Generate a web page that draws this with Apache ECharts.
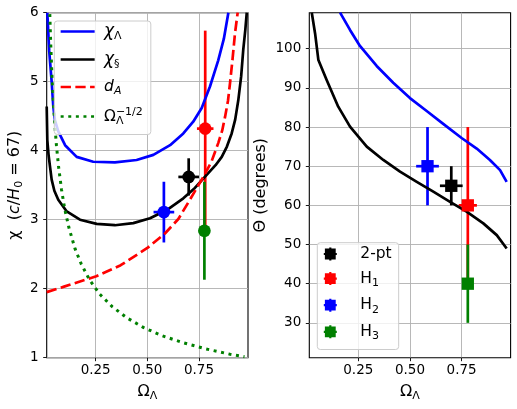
<!DOCTYPE html>
<html>
<head>
<meta charset="utf-8">
<script src="https://cdn.jsdelivr.net/npm/echarts@6/dist/echarts.min.js"></script>
<style>
html,body{margin:0;padding:0;background:#fff;}
#chart{width:517px;height:409px;}
</style>
</head>
<body>
<div id="chart"></div>
<script>
// ---------- data ----------
const omegaTicks = [0.25, 0.5, 0.75];
const thetaTicks = [30, 40, 50, 60, 70, 80, 90, 100];

// left panel curves (Omega_Lambda, chi)
const chiLambdaOmega = [0.016, 0.025, 0.037, 0.045, 0.053, 0.069, 0.102, 0.158, 0.238, 0.343, 0.448, 0.529, 0.610, 0.674, 0.722, 0.763, 0.803, 0.843, 0.870, 0.892];
const chiLambdaVal   = [6.0, 5.45, 5.0, 4.64, 4.44, 4.28, 4.08, 3.91, 3.84, 3.83, 3.865, 3.94, 4.08, 4.25, 4.42, 4.62, 4.93, 5.31, 5.62, 6.0];

const chiSOmega = [0.013, 0.016, 0.022, 0.029, 0.037, 0.050, 0.069, 0.110, 0.174, 0.255, 0.343, 0.432, 0.513, 0.594, 0.674, 0.730, 0.787, 0.830, 0.860, 0.885, 0.908, 0.925, 0.940, 0.954, 0.964, 0.974, 0.981];
const chiSVal   = [4.64, 4.15, 3.94, 3.77, 3.58, 3.42, 3.29, 3.12, 3.0, 2.94, 2.92, 2.95, 3.02, 3.14, 3.31, 3.46, 3.65, 3.79, 3.91, 4.06, 4.25, 4.45, 4.73, 5.08, 5.46, 5.75, 6.0];

const dAOmega = [0.013, 0.097, 0.253, 0.371, 0.500, 0.585, 0.650, 0.706, 0.771, 0.810, 0.843, 0.862, 0.876, 0.890, 0.900, 0.912, 0.924, 0.937];
const dAVal   = [1.95, 2.03, 2.18, 2.34, 2.59, 2.80, 3.01, 3.29, 3.62, 3.84, 4.11, 4.29, 4.49, 4.72, 4.98, 5.32, 5.70, 6.0];

const omInvOmega = [0.028, 0.032, 0.037, 0.043, 0.05, 0.06, 0.07, 0.085, 0.1, 0.12, 0.15, 0.18, 0.22, 0.27, 0.33, 0.4, 0.48, 0.57, 0.67, 0.78, 0.9, 0.97];
const omInvVal   = [5.98, 5.59, 5.20, 4.82, 4.47, 4.08, 3.78, 3.43, 3.16, 2.89, 2.58, 2.36, 2.13, 1.92, 1.74, 1.58, 1.44, 1.32, 1.22, 1.13, 1.05, 1.015];

// right panel curves (Omega_Lambda, Theta in degrees)
const thetaLambdaOmega = [0.162, 0.210, 0.258, 0.339, 0.419, 0.500, 0.581, 0.661, 0.750, 0.823, 0.887, 0.936, 0.968];
const thetaLambdaVal   = [109.2, 104.8, 100.7, 95.6, 91.3, 87.4, 84.1, 80.8, 77.2, 74.5, 71.6, 69.0, 66.0];

const thetaSOmega = [0.025, 0.041, 0.057, 0.097, 0.153, 0.210, 0.291, 0.371, 0.452, 0.533, 0.613, 0.694, 0.774, 0.855, 0.920, 0.968];
const thetaSVal   = [109.2, 103.9, 97.1, 92.0, 85.2, 80.1, 75.0, 71.6, 68.6, 66.0, 63.5, 60.9, 58.4, 55.4, 52.4, 49.0];

// measurements
const pointNames   = ['2-pt', 'H1', 'H2', 'H3'];
const pointColors  = ['#000000', '#ff0000', '#0000ff', '#008000'];
const chiOmega     = [0.70, 0.78, 0.58, 0.776];
const chiOmegaErr  = [0.05, 0.04, 0.05, 0];
const chiVal       = [3.62, 4.32, 3.11, 2.84];
const chiErr       = [0.27, 1.42, 0.44, 0.71];
const thetaOmega    = [0.70, 0.78, 0.585, 0.78];
const thetaOmegaErr = [0.055, 0.044, 0.055, 0];
const thetaVal      = [65, 60, 70, 40];
const thetaErr      = [5, 20, 10, 10];

// ---------- chart ----------
const FONT = 'DejaVu Sans';
const zip = (a, b) => a.map((v, i) => [v, b[i]]);
const chart = echarts.init(document.getElementById('chart'), null, {renderer: 'canvas'});

const LW = 2.7;
const gridBox = {top: 12.7, height: 345, width: 201.3};

function xAxisCfg(gi) {
  return {
    type: 'value', gridIndex: gi, min: 0.013, max: 0.987,
    name: '{o|Ω}{s|Λ}', nameLocation: 'middle', nameGap: 24,
    nameTextStyle: {rich: {
      o: {fontFamily: FONT, fontSize: 16, color: '#000', lineHeight: 20},
      s: {fontFamily: FONT, fontSize: 11, color: '#000', lineHeight: 11, verticalAlign: 'bottom'}
    }},
    axisLine: {show: false},
    axisTick: {show: true, customValues: omegaTicks, length: 3.5, lineStyle: {color: '#000', width: 0.9}},
    axisLabel: {customValues: omegaTicks, formatter: v => v.toFixed(2), fontFamily: FONT, fontSize: 13.5, color: '#000', margin: 6},
    splitLine: {show: true, lineStyle: {color: '#b0b0b0', width: 0.9}}
  };
}

function errSeries(name, xi, yi, xs, xe, ys, ye, color) {
  return {
    type: 'custom', name: name, xAxisIndex: xi, yAxisIndex: yi,
    data: [[xs, ys, xe, ye]],
    renderItem: function (params, api) {
      const x = api.value(0), y = api.value(1), dx = api.value(2), dy = api.value(3);
      const a = api.coord([x, y - dy]), b = api.coord([x, y + dy]);
      const c = api.coord([x - dx, y]), d = api.coord([x + dx, y]);
      const st = {stroke: color, lineWidth: LW, fill: null};
      return {type: 'group', children: [
        {type: 'line', shape: {x1: a[0], y1: a[1], x2: b[0], y2: b[1]}, style: st},
        {type: 'line', shape: {x1: c[0], y1: c[1], x2: d[0], y2: d[1]}, style: st}
      ]};
    },
    z: 3
  };
}

function curve(name, xi, xs, ys, color, type, w) {
  return {name: name, type: 'line', xAxisIndex: xi, yAxisIndex: xi, data: zip(xs, ys), symbol: 'none',
    lineStyle: {color: color, width: w || LW, type: type || 'solid', join: 'round'}, itemStyle: {color: color}};
}

const series = [
  curve('chiL', 0, chiLambdaOmega, chiLambdaVal, '#0000ff'),
  curve('chiS', 0, chiSOmega, chiSVal, '#000000'),
  curve('dA', 0, dAOmega, dAVal, '#ff0000', [10.3, 4.4]),
  curve('om', 0, omInvOmega, omInvVal, '#008000', [3, 4.6], LW + 0.3),
  curve('thL', 1, thetaLambdaOmega, thetaLambdaVal, '#0000ff'),
  curve('thS', 1, thetaSOmega, thetaSVal, '#000000')
];

pointNames.forEach((n, i) => {
  series.push(errSeries('errL' + i, 0, 0, chiOmega[i], chiOmegaErr[i], chiVal[i], chiErr[i], pointColors[i]));
  series.push({name: 'ptL' + i, type: 'scatter', xAxisIndex: 0, yAxisIndex: 0, data: [[chiOmega[i], chiVal[i]]], symbol: 'circle', symbolSize: 12.7, itemStyle: {color: pointColors[i], opacity: 1}, z: 3});
});
pointNames.forEach((n, i) => {
  series.push(errSeries('errR' + i, 1, 1, thetaOmega[i], thetaOmegaErr[i], thetaVal[i], thetaErr[i], pointColors[i]));
  series.push({name: n, type: 'scatter', xAxisIndex: 1, yAxisIndex: 1, data: [[thetaOmega[i], thetaVal[i]]], symbol: 'rect', symbolSize: 12.3, itemStyle: {color: pointColors[i], opacity: 1}, z: 3});
});

const legendLabels = {
  chiL: '{g|χ}{sub|Λ}',
  chiS: '{g|χ}{sub|§}',
  dA: '{i|d}{subi|A}',
  om: '{n|Ω}{s0|Λ}{sup|−1/2}',
  '2-pt': '{n|2-pt}',
  H1: '{n|H}{sub|1}',
  H2: '{n|H}{sub|2}',
  H3: '{n|H}{sub|3}'
};
const legendRich = {
  g: {fontFamily: FONT, fontSize: 17, fontStyle: 'italic', color: '#000', lineHeight: 20},
  i: {fontFamily: FONT, fontSize: 15.5, fontStyle: 'italic', color: '#000', lineHeight: 20},
  n: {fontFamily: FONT, fontSize: 15.5, color: '#000', lineHeight: 20},
  sub: {fontFamily: FONT, fontSize: 11, color: '#000', lineHeight: 11, verticalAlign: 'bottom'},
  subi: {fontFamily: FONT, fontSize: 11, fontStyle: 'italic', color: '#000', lineHeight: 11, verticalAlign: 'bottom'},
  s0: {fontFamily: FONT, fontSize: 11, color: '#000', lineHeight: 11, verticalAlign: 'bottom', width: 0, align: 'left'},
  sup: {fontFamily: FONT, fontSize: 11, color: '#000', lineHeight: 11, verticalAlign: 'top'}
};
const markerIcon = 'path://M1,1 L5,1 L5,0 L7,0 L7,1 L11,1 L11,5 L12,5 L12,7 L11,7 L11,11 L7,11 L7,12 L5,12 L5,11 L1,11 L1,7 L0,7 L0,5 L1,5 Z';

const option = {
  animation: false,
  backgroundColor: '#ffffff',
  textStyle: {fontFamily: FONT},
  grid: [
    {left: 46.7, top: gridBox.top, width: gridBox.width, height: gridBox.height, show: true, borderColor: '#000', borderWidth: 1.1, backgroundColor: 'transparent'},
    {left: 309.3, top: gridBox.top, width: gridBox.width, height: gridBox.height, show: true, borderColor: '#000', borderWidth: 1.1, backgroundColor: 'transparent'}
  ],
  xAxis: [xAxisCfg(0), xAxisCfg(1)],
  yAxis: [
    {
      type: 'value', gridIndex: 0, min: 1, max: 6, interval: 1,
      name: '{t|χ  (}{i|c}{t|/}{i|H}{s|0}{t| = 67)}', nameLocation: 'middle', nameGap: 22, nameRotate: 90,
      nameTextStyle: {rich: {
        t: {fontFamily: FONT, fontSize: 16, color: '#000', lineHeight: 20},
        i: {fontFamily: FONT, fontSize: 16, fontStyle: 'italic', color: '#000', lineHeight: 20},
        s: {fontFamily: FONT, fontSize: 11, color: '#000', lineHeight: 11, verticalAlign: 'bottom'}
      }},
      axisLine: {show: false},
      axisTick: {show: true, length: 3.5, lineStyle: {color: '#000', width: 0.9}},
      axisLabel: {fontFamily: FONT, fontSize: 13.5, color: '#000', margin: 8},
      splitLine: {show: true, lineStyle: {color: '#b0b0b0', width: 0.9}}
    },
    {
      type: 'value', gridIndex: 1, min: 21.1, max: 109.2,
      name: 'Θ (degrees)', nameLocation: 'middle', nameGap: 40, nameRotate: 90,
      nameTextStyle: {fontFamily: FONT, fontSize: 16, color: '#000'},
      axisLine: {show: false},
      axisTick: {show: true, customValues: thetaTicks, length: 3.5, lineStyle: {color: '#000', width: 0.9}},
      axisLabel: {customValues: thetaTicks, fontFamily: FONT, fontSize: 13.5, color: '#000', margin: 8},
      splitLine: {show: true, lineStyle: {color: '#b0b0b0', width: 0.9}}
    }
  ],
  legend: [
    {
      orient: 'vertical', left: 54.3, top: 21, padding: [2, 8, 8, 5],
      itemWidth: 34, itemHeight: 14, itemGap: 9.5,
      backgroundColor: 'rgba(255,255,255,0.8)', borderColor: '#cccccc', borderWidth: 1, borderRadius: 3,
      data: ['chiL', 'chiS', 'dA', 'om'],
      formatter: n => legendLabels[n],
      selectedMode: false,
      itemStyle: {color: 'rgba(0,0,0,0)', borderWidth: 0, opacity: 0},
      lineStyle: {width: LW, opacity: 1},
      textStyle: {fontFamily: FONT, fontSize: 15.5, color: '#000', padding: [0, 0, 0, 4.4], rich: legendRich}
    },
    {
      orient: 'vertical', left: 317.3, top: 242.7, padding: [3.3, 7, 7.7, 6.5],
      itemWidth: 31, itemHeight: 13, itemGap: 8.6,
      backgroundColor: 'rgba(255,255,255,0.8)', borderColor: '#cccccc', borderWidth: 1, borderRadius: 3,
      data: pointNames.map(n => ({name: n, icon: markerIcon})),
      formatter: n => legendLabels[n],
      selectedMode: false,
      textStyle: {fontFamily: FONT, fontSize: 15.5, color: '#000', padding: [0, 0, 0, 9.5], rich: legendRich}
    }
  ],
  series: series
};
chart.setOption(option);
</script>
</body>
</html>
